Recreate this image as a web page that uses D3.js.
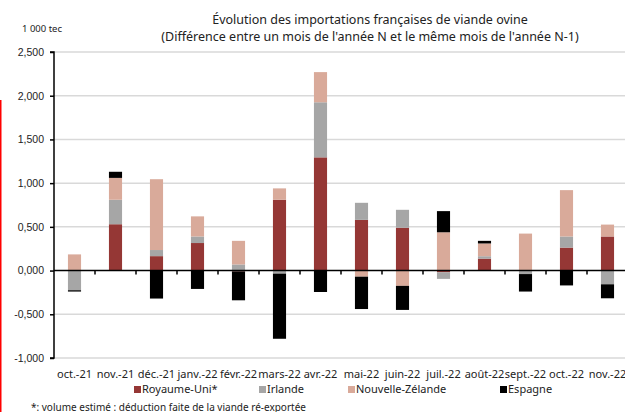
<!DOCTYPE html>
<html>
<head>
<meta charset="utf-8">
<script src="https://cdn.jsdelivr.net/npm/d3@7"></script>
<style>
  body { margin: 0; background: #fff; }
  svg { font-family: "Noto Sans", sans-serif; display: block; }
</style>
</head>
<body>
<div id="chart"></div>
<script>
// values in 1 000 tec
var months = ["oct.-21", "nov.-21", "déc.-21", "janv.-22", "févr.-22", "mars-22", "avr.-22",
  "mai-22", "juin-22", "juil.-22", "août-22", "sept.-22", "oct.-22", "nov.-22"];
var royaumeUni = [0, 0.53, 0.165, 0.315, -0.01, 0.81, 1.295, 0.58, 0.49, -0.02, 0.137, 0, 0.263, 0.39];
var irlande = [-0.225, 0.28, 0.07, 0.075, 0.07, -0.035, 0.63, 0.195, 0.205, -0.075, 0.027, -0.04, 0.127, -0.157];
var nouvelleZelande = [0.185, 0.25, 0.81, 0.23, 0.27, 0.13, 0.345, -0.07, -0.175, 0.438, 0.146, 0.423, 0.53, 0.136];
var espagne = [-0.015, 0.07, -0.32, -0.21, -0.33, -0.745, -0.245, -0.37, -0.275, 0.242, 0.03, -0.2, -0.17, -0.16];
var seriesNames = ["Royaume-Uni*", "Irlande", "Nouvelle-Zélande", "Espagne"];
var colors = ["#953735", "#a6a6a6", "#d9aa9a", "#000000"];
var yTicks = [-1, -0.5, 0, 0.5, 1, 1.5, 2, 2.5];

var W = 625, H = 412;
var plotLeft = 54, plotTop = 52, plotBottom = 358;

var rows = months.map(function (m, i) {
  return {month: m, "Royaume-Uni*": royaumeUni[i], "Irlande": irlande[i],
    "Nouvelle-Zélande": nouvelleZelande[i], "Espagne": espagne[i]};
});

var stack = d3.stack().keys(seriesNames).offset(d3.stackOffsetDiverging);
var stacked = stack(rows);

var fr = d3.formatLocale({decimal: ",", thousands: " ", grouping: [3], currency: ["", ""], minus: "-"});
var fmt = fr.format(".3f");

var x = d3.scaleBand().domain(months).range([plotLeft, plotLeft + 14 * 41]).paddingInner(0.68).paddingOuter(0.34);
var xb = d3.scaleBand().domain(months).range([plotLeft, plotLeft + 14 * 41]);
var y = d3.scaleLinear().domain([-1, 2.5]).range([plotBottom, plotTop]);

var svg = d3.select("#chart").append("svg").attr("width", W).attr("height", H);

// gridlines
svg.append("g").selectAll("line").data(yTicks.filter(function (t) { return t !== 0; }))
  .enter().append("line")
  .attr("x1", plotLeft).attr("x2", W)
  .attr("y1", function (d) { return y(d); }).attr("y2", function (d) { return y(d); })
  .attr("stroke", "#d9d9d9").attr("stroke-width", 1.5);

// bars
svg.append("g").selectAll("g").data(stacked).enter().append("g")
  .attr("fill", function (d, i) { return colors[i]; })
  .selectAll("rect").data(function (d) { return d; }).enter().append("rect")
  .attr("x", function (d) { return x(d.data.month); })
  .attr("width", x.bandwidth())
  .attr("y", function (d) { return y(Math.max(d[0], d[1])); })
  .attr("height", function (d) { return Math.abs(y(d[0]) - y(d[1])); });

// y axis
var yAxis = d3.axisLeft(y).tickValues(yTicks).tickFormat(fmt).tickSize(4).tickPadding(6);
var ya = svg.append("g").attr("transform", "translate(" + plotLeft + ",0)").call(yAxis);
ya.select(".domain").attr("stroke", "#000").attr("stroke-width", 1.5)
  .attr("d", "M-4," + y(2.5) + "H0V" + y(-1) + "H-4");
ya.selectAll(".tick line").attr("stroke", "#000").attr("stroke-width", 1.5);
ya.selectAll("text").attr("font-size", 10.5).attr("fill", "#222");

// zero line with category ticks
svg.append("line").attr("x1", plotLeft).attr("x2", W)
  .attr("y1", y(0)).attr("y2", y(0)).attr("stroke", "#000").attr("stroke-width", 1.5);
svg.append("g").selectAll("line").data(months.slice(1)).enter().append("line")
  .attr("x1", function (d) { return xb(d); }).attr("x2", function (d) { return xb(d); })
  .attr("y1", y(0)).attr("y2", y(0) + 4).attr("stroke", "#000").attr("stroke-width", 1.5);

// x labels
svg.append("g").selectAll("text").data(months).enter().append("text")
  .attr("x", function (d) { return xb(d) + xb.bandwidth() / 2; })
  .attr("y", 378).attr("text-anchor", "middle")
  .attr("font-size", 11).attr("fill", "#222")
  .text(function (d) { return d; });

// titles
svg.append("text").attr("x", 370).attr("y", 24).attr("text-anchor", "middle")
  .attr("font-size", 12.5).attr("fill", "#222")
  .text("Évolution des importations françaises de viande ovine");
svg.append("text").attr("x", 370).attr("y", 41).attr("text-anchor", "middle")
  .attr("font-size", 12.5).attr("fill", "#222")
  .text("(Différence entre un mois de l'année N et le même mois de l'année N-1)");
svg.append("text").attr("x", 42).attr("y", 32).attr("text-anchor", "middle")
  .attr("font-size", 9.5).attr("fill", "#222").text("1 000 tec");

// legend
var legendX = [134, 259, 348, 500];
var lg = svg.append("g").selectAll("g").data(seriesNames).enter().append("g")
  .attr("transform", function (d, i) { return "translate(" + legendX[i] + ",393)"; });
lg.append("rect").attr("x", 0).attr("y", -7).attr("width", 7).attr("height", 7)
  .attr("fill", function (d, i) { return colors[i]; });
lg.append("text").attr("x", 8).attr("y", 0).attr("font-size", 11).attr("fill", "#222")
  .text(function (d) { return d; });

// footnote
svg.append("text").attr("x", 31).attr("y", 411).attr("font-size", 10).attr("fill", "#222")
  .text("*: volume estimé : déduction faite de la viande ré-exportée");

// red edge mark
svg.append("line").attr("x1", 0.75).attr("x2", 0.75).attr("y1", 100).attr("y2", H)
  .attr("stroke", "#ff0000").attr("stroke-width", 1.5);
</script>
</body>
</html>
